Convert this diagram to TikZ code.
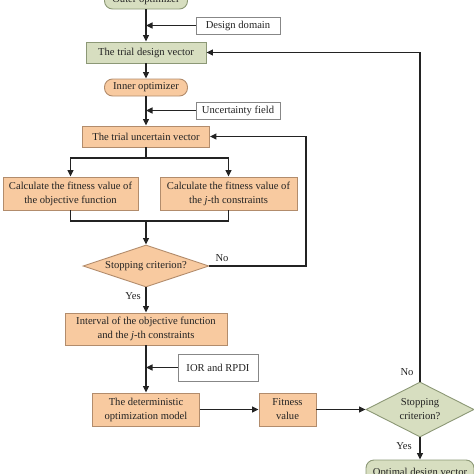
\documentclass[tikz,border=0pt]{standalone}
\usepackage{fontspec}
\setmainfont{Liberation Serif}
\usetikzlibrary{shapes.geometric,arrows.meta}

\definecolor{greenfill}{RGB}{215,222,192}
\definecolor{greenline}{RGB}{140,152,118}
\definecolor{orangefill}{RGB}{248,202,160}
\definecolor{orangeline}{RGB}{178,140,108}
\definecolor{plainline}{RGB}{135,135,135}
\definecolor{flowline}{RGB}{35,35,35}

\tikzset{
	txt/.style={font=\fontsize{10.6}{14}\selectfont, text=flowline, align=center, inner sep=0pt},
	greenbox/.style={txt, rectangle, draw=greenline, fill=greenfill, line width=0.9pt},
	orangebox/.style={txt, rectangle, draw=orangeline, fill=orangefill, line width=0.9pt},
	inputbox/.style={txt, rectangle, draw=plainline, fill=white, line width=0.9pt},
	greenpill/.style={greenbox, rounded corners=8pt},
	orangepill/.style={orangebox, rounded corners=8pt},
	decision/.style={txt, diamond, aspect=2.5, line width=0.9pt},
	flow/.style={draw=flowline, line width=1.1pt},
	tag/.style={txt}
}

\begin{document}
\begin{tikzpicture}[x=1pt, y=-1pt, >={Triangle[length=6.5pt,width=6pt]}]
		\useasboundingbox (0,0) rectangle (474,474);

		% outer loop
		\draw (146,0.5) node [greenpill, minimum width=83pt, minimum height=17pt] (outer) {Outer optimizer};
		\draw (238,25.5) node [inputbox, minimum width=84pt, minimum height=17pt] (domain) {Design domain};
		\draw (146,52.5) node [greenbox, minimum width=120pt, minimum height=21pt] (trialx) {The trial design vector};

		% inner loop
		\draw (146,87.5) node [orangepill, minimum width=83pt, minimum height=17pt] (inner) {Inner optimizer};
		\draw (238,110.5) node [inputbox, minimum width=84pt, minimum height=17pt] (field) {Uncertainty field};
		\draw (146,136.5) node [orangebox, minimum width=127pt, minimum height=21pt] (trialu) {The trial uncertain vector};
		\draw (70.5,193.5) node [orangebox, minimum width=135pt, minimum height=33pt] (fitobj) {Calculate the fitness value of\\the objective function};
		\draw (228.5,193.5) node [orangebox, minimum width=137pt, minimum height=33pt] (fitcon) {Calculate the fitness value of\\the \emph{j}-th constraints};
		\draw (146,266) node [decision, draw=orangeline, fill=orangefill, minimum width=126pt, minimum height=42pt] (stopin) {Stopping criterion?};

		% interval model
		\draw (146,329) node [orangebox, minimum width=162pt, minimum height=32pt] (interval) {Interval of the objective function\\and the \emph{j}-th constraints};
		\draw (218,367.5) node [inputbox, minimum width=80pt, minimum height=27pt] (ior) {IOR and RPDI};
		\draw (146,409.5) node [orangebox, minimum width=107pt, minimum height=33pt] (det) {The deterministic\\optimization model};
		\draw (287.5,409.5) node [orangebox, minimum width=57pt, minimum height=33pt] (fit) {Fitness\\value};
		\draw (420,409.5) node [decision, draw=greenline, fill=greenfill, minimum width=108pt, minimum height=55pt] (stopout) {Stopping\\criterion?};
		\draw (420,473) node [greenpill, minimum width=108pt, minimum height=26pt] (opt) {Optimal design vector};

		\coordinate (split) at (146,158);
		\coordinate (merge) at (146,221);

		\draw [flow, ->] (outer) -- (trialx);
		\draw [flow, ->] (domain.west) -- (domain.west -| trialx.north);
		\draw [flow, ->] (trialx) -- (inner);
		\draw [flow, ->] (inner) -- (trialu);
		\draw [flow, ->] (field.west) -- (field.west -| trialu.north);
		\draw [flow] (trialu) -- (split);
		\draw [flow, ->] (split) -| (fitobj.north);
		\draw [flow, ->] (split) -| (fitcon.north);
		\draw [flow] (fitobj.south) |- (merge) -| (fitcon.south);
		\draw [flow, ->] (merge) -- (stopin.north);
		\draw [flow, ->] (stopin.east) -- (306,266) |- (trialu.east);
		\draw [flow, ->] (stopin.south) -- (interval.north);
		\draw [flow, ->] (interval) -- (det);
		\draw [flow, ->] (ior.west) -- (ior.west -| det.north);
		\draw [flow, ->] (det) -- (fit);
		\draw [flow, ->] (fit) -- (stopout);
		\draw [flow, ->] (stopout.north) |- (trialx.east);
		\draw [flow, ->] (stopout.south) -- (opt.north);

		% branch labels
		\draw (222,258.5) node [tag] (noin) {No};
		\draw (133,296) node [tag] (yesin) {Yes};
		\draw (407,372) node [tag] (noout) {No};
		\draw (404,446) node [tag] (yesout) {Yes};
	\end{tikzpicture}
\end{document}
